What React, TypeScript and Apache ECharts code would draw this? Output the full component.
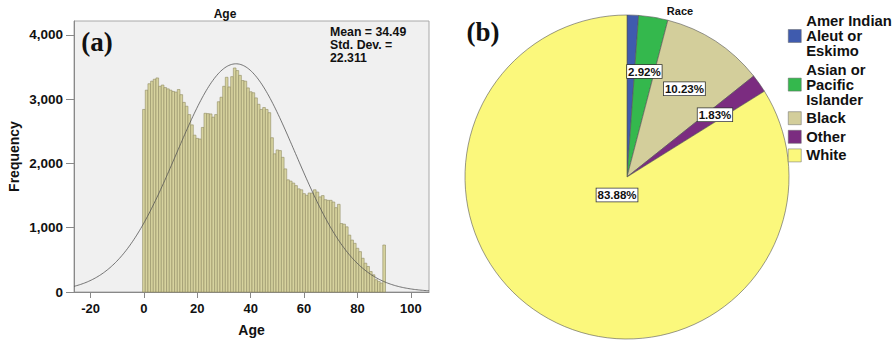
import React, { useEffect, useRef } from 'react';
import * as echarts from 'echarts';

// ---------- Data: panel (a) Age histogram ----------
const AGES = [
  0, 1, 2, 3, 4, 5, 6, 7, 8, 9, 10, 11, 12, 13, 14, 15, 16, 17, 18, 19,
  20, 21, 22, 23, 24, 25, 26, 27, 28, 29, 30, 31, 32, 33, 34, 35, 36, 37, 38, 39,
  40, 41, 42, 43, 44, 45, 46, 47, 48, 49, 50, 51, 52, 53, 54, 55, 56, 57, 58, 59,
  60, 61, 62, 63, 64, 65, 66, 67, 68, 69, 70, 71, 72, 73, 74, 75, 76, 77, 78, 79,
  80, 81, 82, 83, 84, 85, 86, 87, 88, 89, 90,
];
const AGE_COUNTS = [
  2840, 3140, 3240, 3280, 3310, 3330, 3200, 3220, 3180, 3160,
  3140, 3120, 3110, 3150, 3070, 2950, 2890, 2760, 2600, 2440,
  2390, 2380, 2560, 2780, 2775, 2770, 2720, 2760, 2960, 3030,
  3200, 3340, 3190, 3350, 3485, 3445, 3370, 3290, 3280, 3175,
  3115, 3100, 3020, 2920, 2840, 2870, 2840, 2790, 2400, 2150,
  2210, 2200, 2095, 1915, 1745, 1725, 1695, 1655, 1605, 1590,
  1530, 1505, 1540, 1540, 1590, 1555, 1480, 1500, 1436, 1426,
  1426, 1400, 1312, 1364, 1065, 1055, 1014, 885, 808, 757,
  680, 628, 525, 448, 397, 319, 268, 191, 165, 140, 731,
];
const MEAN = 34.49;
const SD = 22.311;
const X_TICKS = [-20, 0, 20, 40, 60, 80, 100];
const Y_TICKS = [0, 1000, 2000, 3000, 4000];

// ---------- Data: panel (b) Race pie ----------
const RACE_NAMES = ['Amer Indian\nAleut or\nEskimo', 'Asian or\nPacific\nIslander', 'Black', 'Other', 'White'];
const RACE_PCT = [1.14, 2.92, 10.23, 1.83, 83.88];
const RACE_SHOW_LABEL = [false, true, true, true, true];
const RACE_COLORS = ['#3F5BAE', '#34B84D', '#D3CE9B', '#7B2C80', '#FBF87C'];

// ---------- Layout / style ----------
const FONT = '"Liberation Sans", Arial, Helvetica, sans-serif';
const SERIF = '"Liberation Serif", "Times New Roman", serif';
const X_MIN = -26.2;
const X_MAX = 106.8;
const Y_MAX = 4216;
const PIE_CX = 627;
const PIE_CY = 177;
const PIE_R = 162;
const LABEL_R_FACTOR = [0, 0.66, 0.65, 0.665, 0.127];

export default function App() {
  const ref = useRef<HTMLDivElement>(null);

  useEffect(() => {
    document.body.style.margin = '0';
    if (!ref.current) return;
    const chart = echarts.init(ref.current, undefined, { renderer: 'svg' });

    const total = AGE_COUNTS.reduce((a, b) => a + b, 0);
    const curve: number[][] = [];
    for (let x = X_MIN; x <= X_MAX + 0.001; x += 0.5) {
      const z = (x - MEAN) / SD;
      curve.push([x, (total / (SD * Math.sqrt(2 * Math.PI))) * Math.exp(-0.5 * z * z)]);
    }

    const pieTotal = RACE_PCT.reduce((a, b) => a + b, 0);
    const midAngles: number[] = [];
    let acc = 0;
    RACE_PCT.forEach((v) => {
      midAngles.push(((acc + v / 2) / pieTotal) * 2 * Math.PI);
      acc += v;
    });

    const labelTextStyle = {
      color: '#111',
      fontFamily: FONT,
      fontWeight: 'bold',
      fontSize: 11.5,
      backgroundColor: '#ffffff',
      borderColor: '#333',
      borderWidth: 0.8,
      padding: [1, 1, 0, 1],
    };

    const option: any = {
      animation: false,
      backgroundColor: '#ffffff',
      textStyle: { fontFamily: FONT },
      grid: {
        left: 74,
        top: 21,
        width: 355,
        height: 273,
        show: true,
        backgroundColor: '#F0F0F0',
        borderColor: '#A8A8A8',
        borderWidth: 1,
      },
      xAxis: {
        type: 'value',
        min: X_MIN,
        max: X_MAX,
        name: 'Age',
        nameLocation: 'middle',
        nameGap: 31,
        nameTextStyle: { fontSize: 14, fontWeight: 'bold', color: '#111', fontFamily: FONT },
        axisLine: { show: true, onZero: false, lineStyle: { color: '#888', width: 1 } },
        axisTick: { show: true, length: 6, customValues: X_TICKS, lineStyle: { color: '#888' } },
        axisLabel: {
          customValues: X_TICKS,
          margin: 10,
          fontSize: 13,
          fontWeight: 'bold',
          color: '#111',
          fontFamily: FONT,
        },
        splitLine: { show: false },
      },
      yAxis: {
        type: 'value',
        min: 0,
        max: Y_MAX,
        name: 'Frequency',
        nameLocation: 'middle',
        nameGap: 53,
        nameTextStyle: { fontSize: 14, fontWeight: 'bold', color: '#111', fontFamily: FONT },
        axisLine: { show: true, onZero: false, lineStyle: { color: '#888', width: 1 } },
        axisTick: { show: true, length: 8, customValues: Y_TICKS, lineStyle: { color: '#888' } },
        axisLabel: {
          customValues: Y_TICKS,
          margin: 11,
          fontSize: 13.5,
          fontWeight: 'bold',
          color: '#111',
          fontFamily: FONT,
          formatter: (v: number) => v.toLocaleString('en-US'),
        },
        splitLine: { show: false },
      },
      legend: {
        data: RACE_NAMES,
        orient: 'vertical',
        left: 788,
        top: 13.5,
        padding: 0,
        itemWidth: 13,
        itemHeight: 13,
        itemGap: 3.6,
        icon: 'rect',
        selectedMode: false,
        textStyle: {
          fontSize: 14.8,
          lineHeight: 15,
          fontWeight: 'bold',
          color: '#111',
          fontFamily: FONT,
        },
        itemStyle: { borderColor: '#666', borderWidth: 0.5 },
      },
      graphic: [
        {
          type: 'text',
          x: 225,
          y: 14,
          style: { text: 'Age', fill: '#111', font: `bold 12px ${FONT}`, textAlign: 'center', textVerticalAlign: 'middle' },
        },
        {
          type: 'text',
          x: 97,
          y: 42,
          style: { text: '(a)', fill: '#111', font: `bold 27px ${SERIF}`, textAlign: 'center', textVerticalAlign: 'middle' },
        },
        {
          type: 'text',
          x: 330,
          y: 25,
          style: {
            text: `Mean = ${MEAN}\nStd. Dev. =\n${SD}`,
            fill: '#111',
            font: `bold 12.3px ${FONT}`,
            lineHeight: 13,
            textAlign: 'left',
            textVerticalAlign: 'top',
          },
        },
        {
          type: 'text',
          x: 680,
          y: 10.5,
          style: { text: 'Race', fill: '#111', font: `bold 11px ${FONT}`, textAlign: 'center', textVerticalAlign: 'middle' },
        },
        {
          type: 'text',
          x: 483,
          y: 32,
          style: { text: '(b)', fill: '#111', font: `bold 27px ${SERIF}`, textAlign: 'center', textVerticalAlign: 'middle' },
        },
      ],
      series: [
        {
          type: 'custom',
          name: 'Age',
          coordinateSystem: 'cartesian2d',
          encode: { x: 0, y: 1 },
          data: AGES.map((a, i) => [a, AGE_COUNTS[i]]),
          renderItem: (params: any, api: any) => {
            const x = api.value(0);
            const y = api.value(1);
            const p0 = api.coord([x - 0.5, y]);
            const p1 = api.coord([x + 0.5, 0]);
            return {
              type: 'rect',
              shape: { x: p0[0], y: p0[1], width: p1[0] - p0[0], height: p1[1] - p0[1] },
              style: { fill: '#D7D39F', stroke: '#908C62', lineWidth: 0.6 },
            };
          },
          z: 2,
        },
        {
          type: 'line',
          name: 'Normal',
          data: curve,
          showSymbol: false,
          symbol: 'none',
          smooth: false,
          lineStyle: { color: '#555', width: 0.8 },
          z: 3,
        },
        {
          type: 'pie',
          name: 'Race',
          center: [PIE_CX, PIE_CY],
          radius: PIE_R,
          startAngle: 90,
          clockwise: true,
          avoidLabelOverlap: false,
          data: RACE_NAMES.map((n, i) => ({
            name: n,
            value: RACE_PCT[i],
            itemStyle: { color: RACE_COLORS[i] },
            label: { show: RACE_SHOW_LABEL[i] },
          })),
          itemStyle: { borderColor: '#555', borderWidth: 0.6 },
          label: {
            show: true,
            position: 'inside',
            formatter: (p: any) => `${Number(p.value).toFixed(2)}%`,
            ...labelTextStyle,
          },
          labelLine: { show: false },
          labelLayout: (params: any) => {
            const i = params.dataIndex;
            const ang = midAngles[i];
            const r = PIE_R * LABEL_R_FACTOR[i];
            return {
              x: PIE_CX + r * Math.sin(ang),
              y: PIE_CY - r * Math.cos(ang),
              align: 'center',
              verticalAlign: 'middle',
            };
          },
          emphasis: { disabled: true },
        },
      ],
    };

    chart.setOption(option);
    return () => chart.dispose();
  }, []);

  return <div ref={ref} style={{ width: 894, height: 342 }} />;
}
